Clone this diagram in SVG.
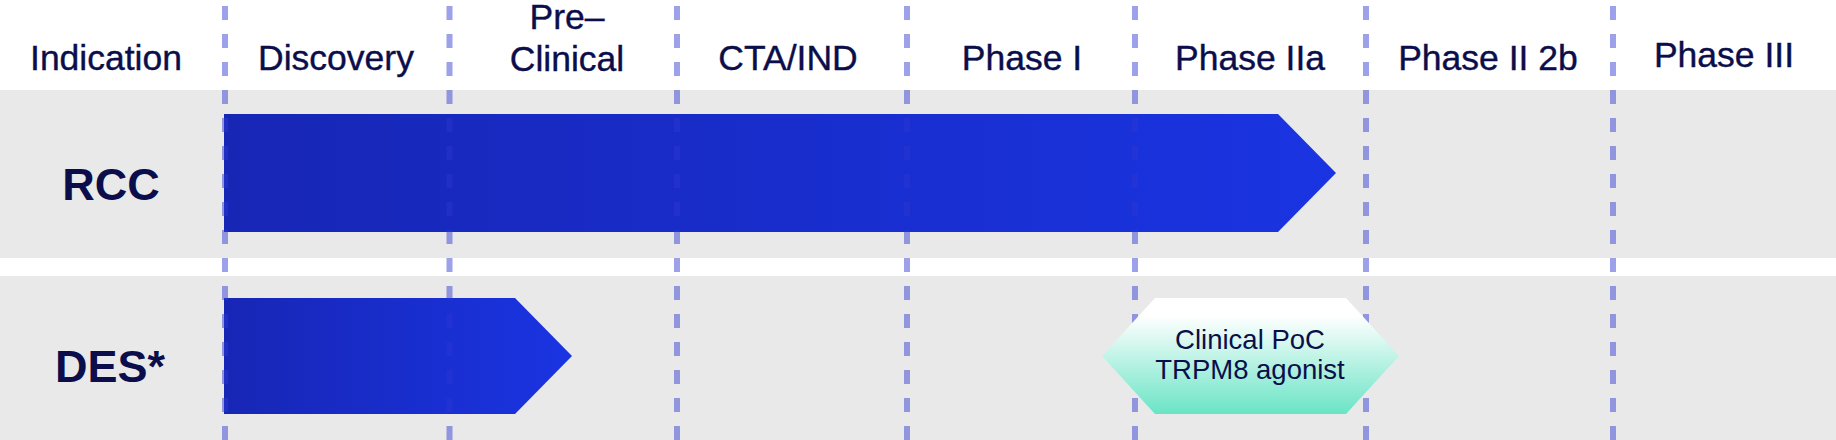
<svg xmlns="http://www.w3.org/2000/svg" width="1836" height="440" viewBox="0 0 1836 440">
  <defs>
    <linearGradient id="barGrad" x1="0" y1="0" x2="1" y2="0">
      <stop offset="0" stop-color="#1726b5"/>
      <stop offset="1" stop-color="#1a34e2"/>
    </linearGradient>
    <linearGradient id="hexGrad" x1="0" y1="0" x2="0" y2="1">
      <stop offset="0" stop-color="#ffffff"/>
      <stop offset="0.15" stop-color="#ffffff"/>
      <stop offset="1" stop-color="#6ae4c5"/>
    </linearGradient>
    <style>
      .hdr { font-family: "Liberation Sans", Arial, sans-serif; font-size: 35.5px; fill: #0b0e4a; text-anchor: middle; stroke: #0b0e4a; stroke-width: 0.4px; }
      .row { font-family: "Liberation Sans", Arial, sans-serif; font-size: 45px; font-weight: bold; fill: #0b0e4a; text-anchor: middle; }
      .hex { font-family: "Liberation Sans", Arial, sans-serif; font-size: 27.5px; fill: #0b0e4a; text-anchor: middle; }
      .band { fill: #e9e9e9; }
      .grid { stroke: rgb(45,55,210); stroke-opacity: 0.47; stroke-width: 6; stroke-dasharray: 14 14; }
      .bar { fill: url(#barGrad); }
    </style>
  </defs>

  <rect x="0" y="0" width="1836" height="440" fill="#ffffff"/>
  <rect class="band" x="0" y="90" width="1836" height="168"/>
  <rect class="band" x="0" y="276" width="1836" height="164"/>

  <g id="header">
    <text class="hdr" x="106" y="70">Indication</text>
    <text class="hdr" x="336" y="70">Discovery</text>
    <text class="hdr" x="567" y="29">Pre–</text>
    <text class="hdr" x="567" y="71">Clinical</text>
    <text class="hdr" x="788" y="70">CTA/IND</text>
    <text class="hdr" x="1022" y="70">Phase I</text>
    <text class="hdr" x="1250" y="70">Phase IIa</text>
    <text class="hdr" x="1488" y="70">Phase II 2b</text>
    <text class="hdr" x="1724" y="67">Phase III</text>
  </g>

  <g id="rcc">
    <text class="row" x="111" y="200">RCC</text>
    <polygon class="bar" points="224,114 1278,114 1336,173 1278,232 224,232"/>
  </g>

  <g id="des">
    <text class="row" x="110" y="382">DES*</text>
    <polygon class="bar" points="224,298 515,298 572,356 515,414 224,414"/>
  </g>

  <g id="connectors">
    <line class="grid" x1="225" y1="6" x2="225" y2="440"/>
    <line class="grid" x1="449.5" y1="6" x2="449.5" y2="440"/>
    <line class="grid" x1="677" y1="6" x2="677" y2="440"/>
    <line class="grid" x1="907" y1="6" x2="907" y2="440"/>
    <line class="grid" x1="1135" y1="6" x2="1135" y2="440"/>
    <line class="grid" x1="1366" y1="6" x2="1366" y2="440"/>
    <line class="grid" x1="1613" y1="6" x2="1613" y2="440"/>
  </g>

  <g id="poc">
    <polygon points="1102,356 1155,298 1346,298 1399,356 1346,414 1155,414" fill="url(#hexGrad)"/>
    <text class="hex" x="1250" y="349">Clinical PoC</text>
    <text class="hex" x="1250" y="379">TRPM8 agonist</text>
  </g>
</svg>
